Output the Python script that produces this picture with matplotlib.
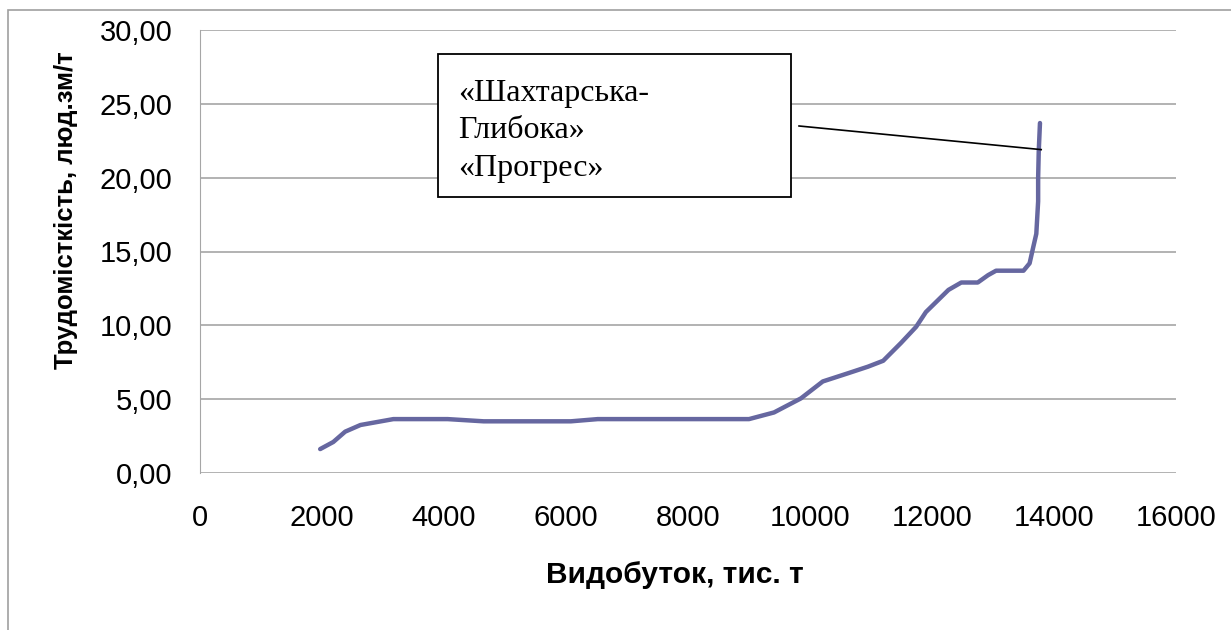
import matplotlib
matplotlib.use('Agg')
import matplotlib.pyplot as plt
from matplotlib.patches import Rectangle
from matplotlib.ticker import FuncFormatter

# видобуток, тис. т  /  трудомісткість, люд.зм/т
vydobutok = [1970, 2185, 2380, 2630, 3170, 4060, 4650, 6080, 6520, 9000, 9410,
             9850, 10210, 10620, 10950, 11200, 11490, 11740, 11900, 12270, 12480,
             12750, 12920, 13050, 13500, 13600, 13660, 13710, 13740, 13740,
             13750, 13770]
trudomistkist = [1.62, 2.1, 2.8, 3.25, 3.65, 3.65, 3.5, 3.5, 3.65, 3.65, 4.1,
                 5.05, 6.2, 6.75, 7.2, 7.6, 8.8, 9.9, 10.9, 12.4, 12.9,
                 12.9, 13.4, 13.7, 13.7, 14.2, 15.3, 16.2, 18.4, 20.0,
                 21.8, 23.7]
x_ticks = [0, 2000, 4000, 6000, 8000, 10000, 12000, 14000, 16000]
y_ticks = [0, 5, 10, 15, 20, 25, 30]
label_lines = ['«Шахтарська-', 'Глибока»', '«Прогрес»']

W, H = 1231, 630
fig = plt.figure(figsize=(W / 100, H / 100), dpi=100)
ax = fig.add_axes([200 / W, 1 - 473 / H, 976 / W, 443 / H])

grid_c = '#A6A6A6'
ax.plot(vydobutok, trudomistkist, color='#6667A0', lw=3.2,
        solid_capstyle='round', solid_joinstyle='round', zorder=3)

ax.set_xlim(0, 16000)
ax.set_ylim(0, 30)
ax.set_xticks(x_ticks)
ax.set_yticks(y_ticks)
ax.yaxis.set_major_formatter(FuncFormatter(lambda v, p: f'{v:.2f}'.replace('.', ',')))
ax.grid(axis='y', color=grid_c, lw=1.2)
ax.set_axisbelow(True)
for s in ['top', 'right', 'bottom']:
    ax.spines[s].set_visible(False)
ax.spines['left'].set_color(grid_c)
ax.tick_params(axis='both', length=0, labelsize=21, colors='black')
ax.tick_params(axis='y', pad=20)
ax.tick_params(axis='x', pad=22)
for lbl in ax.get_xticklabels() + ax.get_yticklabels():
    lbl.set_family('Liberation Sans')

fig.text(675 / W, 1 - 575 / H, 'Видобуток, тис. т', family='Liberation Sans',
         fontsize=21.5, fontweight='bold', ha='center', va='center')
fig.text(66 / W, 1 - 210 / H, 'Трудомісткість, люд.зм/т', family='Liberation Sans',
         fontsize=18.5, fontweight='bold', ha='center', va='center', rotation=90)

# виноска
ax.plot([9820, 13790], [23.5, 21.9], color='black', lw=1.2, zorder=4, clip_on=False)
fig.patches.append(Rectangle((438 / W, 1 - 197 / H), 353 / W, 143 / H,
                             transform=fig.transFigure, fill=True, fc='white',
                             ec='black', lw=1.3, zorder=5))
for i, line in enumerate(label_lines):
    fig.text(458 / W, 1 - (93 + 38 * i) / H, line, family='Liberation Serif',
             fontsize=23, va='center', ha='left', zorder=6)

# рамка діаграми
fig.patches.append(Rectangle((8 / W, -0.1), 1.2, 1.1 - 10 / H,
                             transform=fig.transFigure, fill=False,
                             ec='#A0A0A0', lw=1.2))

fig.savefig('out.png', dpi=100)
